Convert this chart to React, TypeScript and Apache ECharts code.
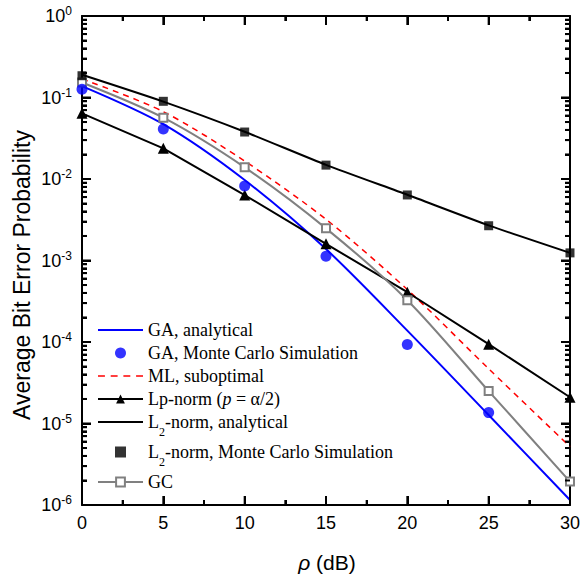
import React, { useEffect, useRef } from 'react';
import * as echarts from 'echarts';

const snr = [0, 5, 10, 15, 20, 25, 30];
const gaAnalytical = [0.138, 0.047, 0.0097, 0.00138, 1.38e-4, 1.27e-5, 1.15e-6];
const gaMonteCarlo = [0.126, 0.041, 0.0082, 0.00113, 9.3e-5, 1.36e-5];
const mlSuboptimal = [0.169, 0.067, 0.0166, 0.0032, 4.4e-4, 4.7e-5, 5.2e-6];
const lpNorm = [0.064, 0.0238, 0.00636, 0.0016, 4.08e-4, 9.4e-5, 2.1e-5];
const l2Analytical = [0.19, 0.089, 0.038, 0.0149, 0.0064, 0.0027, 0.00124];
const l2MonteCarlo = [0.185, 0.0898, 0.0377, 0.0148, 0.00637, 0.00267, 0.00124];
const gcValues = [0.153, 0.0565, 0.0139, 0.00248, 3.26e-4, 2.5e-5, 1.94e-6];

const seriesNames = [
  'GA, analytical',
  'GA, Monte Carlo Simulation',
  'ML, suboptimal',
  'Lp-norm (p = α/2)',
  'L2-norm, analytical',
  'L2-norm, Monte Carlo Simulation',
  'GC',
];
const legendRich: Record<string, string> = {
  'GA, analytical': '{n|GA, analytical}',
  'GA, Monte Carlo Simulation': '{n|GA, Monte Carlo Simulation}',
  'ML, suboptimal': '{n|ML, suboptimal}',
  'Lp-norm (p = α/2)': '{n|Lp-norm (}{i|p}{n| = α/2)}',
  'L2-norm, analytical': '{n|L}{sub|2}{n|-norm, analytical}',
  'L2-norm, Monte Carlo Simulation': '{n|L}{sub|2}{n|-norm, Monte Carlo Simulation}',
  GC: '{n|GC}',
};

// axis ticks
const xMajorTicks = [0, 5, 10, 15, 20, 25, 30];
const xMinorTicks = [2.5, 7.5, 12.5, 17.5, 22.5, 27.5];
const yMajorTicks = [1e-6, 1e-5, 1e-4, 1e-3, 1e-2, 1e-1, 1];
const decadeExponents = [-6, -5, -4, -3, -2, -1];
const minorMultipliers = [2, 3, 4, 5, 6, 7, 8, 9];

const X_MIN = 0;
const X_MAX = 30;
const Y_MIN = 1e-6;
const Y_MAX = 1;

const SANS = 'Arial, "Liberation Sans", sans-serif';
const SERIF = '"Times New Roman", "Liberation Serif", serif';

const ICON_SOLID = 'path://M0,0H45V2H0Z';
const ICON_DASH = 'path://M0,0H6V1.5H0Z M11,0H17V1.5H11Z M22,0H28V1.5H22Z M33,0H39V1.5H33Z';
const ICON_SQUARE = 'path://M0,0H10V10H0Z';

const pair = (xs: number[], ys: number[]) => ys.map((v, i) => [xs[i], v]);

export default function App() {
  const ref = useRef<HTMLDivElement>(null);
  useEffect(() => {
    if (!ref.current) return;
    const chart = echarts.init(ref.current, null, { renderer: 'svg' });
    const yMinorTicks: number[] = [];
    decadeExponents.forEach((e) => minorMultipliers.forEach((m) => yMinorTicks.push(m * Math.pow(10, e))));

    const MAJOR = 9;
    const MINOR = 5;
    const axisLine = (show: boolean) => ({ show, onZero: false, lineStyle: { color: '#000', width: 2 } });
    const tickLS = () => ({ color: '#000', width: 2 });
    const noSplit = () => ({ splitLine: { show: false }, minorSplitLine: { show: false } });
    const xAx = (pos: string, labels: boolean): any => ({
      type: 'value', min: X_MIN, max: X_MAX, interval: 5, position: pos, ...noSplit(),
      axisLine: axisLine(true),
      axisTick: { show: true, inside: true, length: MAJOR, lineStyle: tickLS() },
      minorTick: { show: true, splitNumber: 2, length: MINOR, lineStyle: tickLS() },
      axisLabel: labels ? { fontSize: 18, color: '#000', fontFamily: SANS, margin: 9 } : { show: false },
    });
    const yAx = (pos: string): any => ({
      type: 'log', logBase: 10, min: Y_MIN, max: Y_MAX, splitNumber: 6, position: pos, ...noSplit(),
      axisLine: axisLine(true),
      axisTick: { show: true, inside: true, length: MAJOR, lineStyle: tickLS() },
      axisLabel: { show: false },
    });
    const yMinorAx = (pos: string): any => ({
      type: 'log', logBase: 10, min: Y_MIN, max: Y_MAX, splitNumber: 6, position: pos, ...noSplit(),
      axisLine: axisLine(false),
      axisTick: { show: true, inside: true, length: MINOR, customValues: yMinorTicks, lineStyle: tickLS() },
      axisLabel: { show: false },
    });

    const option: any = {
      animation: false,
      grid: { left: 82, right: 12, top: 16, bottom: 72 },
      xAxis: [xAx('bottom', true), xAx('top', false)],
      yAxis: [
        {
          ...yAx('left'),
          axisLabel: {
            show: true, margin: 10, color: '#000',
            formatter: (v: number) => `{b|10}{s|${Math.round(Math.log10(v))}}`,
            rich: {
              b: { fontSize: 18, fontFamily: SANS, color: '#000', lineHeight: 22 },
              s: { fontSize: 12, fontFamily: SANS, color: '#000', lineHeight: 12, verticalAlign: 'top' },
            },
          },
        },
        yAx('right'),
        yMinorAx('left'),
        yMinorAx('right'),
      ],
      legend: {
        orient: 'vertical', left: 97, top: 321, padding: 0,
        itemWidth: 45, itemHeight: 11, itemGap: 5, symbolKeepAspect: true,
        formatter: (name: string) => legendRich[name] || name,
        textStyle: {
          color: '#000', fontFamily: SERIF, fontSize: 18,
          rich: {
            n: { fontFamily: SERIF, fontSize: 18, lineHeight: 18, color: '#000', verticalAlign: 'top' },
            i: { fontFamily: SERIF, fontSize: 18, lineHeight: 18, fontStyle: 'italic', color: '#000', verticalAlign: 'top' },
            sub: { fontFamily: SERIF, fontSize: 12, lineHeight: 12, padding: [13, 0, 0, 0], color: '#000', verticalAlign: 'top' },
          },
        },
        data: [
          { name: seriesNames[0], icon: ICON_SOLID },
          { name: seriesNames[1], icon: 'circle' },
          { name: seriesNames[2], icon: ICON_DASH },
          { name: seriesNames[3] },
          { name: seriesNames[4], icon: ICON_SOLID },
          { name: seriesNames[5], icon: ICON_SQUARE },
          { name: seriesNames[6] },
        ],
      },
      series: [
        {
          name: seriesNames[0], type: 'line', data: pair(snr, gaAnalytical), symbol: 'none', smooth: 0.3,
          lineStyle: { color: '#0000ff', width: 2 }, itemStyle: { color: '#0000ff' }, z: 3,
        },
        {
          name: seriesNames[1], type: 'scatter', data: pair(snr, gaMonteCarlo), symbol: 'circle', symbolSize: 11,
          itemStyle: { color: '#0000ff' }, z: 4,
        },
        {
          name: seriesNames[2], type: 'line', data: pair(snr, mlSuboptimal), symbol: 'none', smooth: 0.3,
          lineStyle: { color: '#ff0000', width: 1.5, type: [6, 5] }, itemStyle: { color: '#ff0000' }, z: 2,
        },
        {
          name: seriesNames[3], type: 'line', data: pair(snr, lpNorm), symbol: 'triangle', symbolSize: 11,
          lineStyle: { color: '#000', width: 2 }, itemStyle: { color: '#000' }, z: 3,
        },
        {
          name: seriesNames[4], type: 'line', data: pair(snr, l2Analytical), symbol: 'none', smooth: 0.2,
          lineStyle: { color: '#000', width: 2 }, itemStyle: { color: '#000' }, z: 3,
        },
        {
          name: seriesNames[5], type: 'scatter', data: pair(snr, l2MonteCarlo), symbol: 'rect', symbolSize: 9,
          itemStyle: { color: '#000' }, z: 4,
        },
        {
          name: seriesNames[6], type: 'line', data: pair(snr, gcValues), symbol: 'emptyRect', symbolSize: 8, smooth: 0.3,
          lineStyle: { color: '#808080', width: 2 }, itemStyle: { color: '#808080', borderWidth: 1.2 }, z: 3,
        },
      ],
    };
    chart.setOption(option);

    // Extra tick marks placed through the axes' own scales
    const px = (v: number) => Number(chart.convertToPixel({ xAxisIndex: 0 }, v));
    const py = (v: number) => Number(chart.convertToPixel({ yAxisIndex: 0 }, v));
    const left = px(X_MIN);
    const right = px(X_MAX);
    const bottom = py(Y_MIN);
    const top = py(Y_MAX);
    const ticks: any[] = [];
    const tickLine = (x1: number, y1: number, x2: number, y2: number) => {
      if ([x1, y1, x2, y2].some((n) => !isFinite(n))) return;
      ticks.push({ type: 'line', z: 50, shape: { x1, y1, x2, y2 }, style: { stroke: '#000', lineWidth: 2 } });
    };
    xMajorTicks.forEach((v) => { const x = px(v); tickLine(x, bottom, x, bottom - MAJOR); tickLine(x, top, x, top + MAJOR); });
    xMinorTicks.forEach((v) => { const x = px(v); tickLine(x, bottom, x, bottom - MINOR); tickLine(x, top, x, top + MINOR); });
    yMajorTicks.forEach((v) => { const y = py(v); tickLine(left, y, left + MAJOR, y); tickLine(right, y, right - MAJOR, y); });
    yMinorTicks.forEach((v) => { const y = py(v); tickLine(left, y, left + MINOR, y); tickLine(right, y, right - MINOR, y); });

    chart.setOption({
      graphic: {
        elements: [
          {
            type: 'text', x: 22, y: 275, rotation: Math.PI / 2,
            style: { text: 'Average Bit Error Probability', fontSize: 23, fontFamily: SANS, fill: '#000', align: 'center', verticalAlign: 'middle' },
          },
          {
            type: 'text', x: 327, y: 562,
            style: {
              text: '{i|ρ}{n| (dB)}', align: 'center', verticalAlign: 'middle', fill: '#000',
              rich: {
                i: { fontSize: 21, fontFamily: SANS, fontStyle: 'italic', fill: '#000' },
                n: { fontSize: 21, fontFamily: SANS, fill: '#000' },
              },
            },
          },
          ...ticks,
        ],
      },
    });
    return () => chart.dispose();
  }, []);
  return <div ref={ref} style={{ position: 'fixed', left: 0, top: 0, width: 583, height: 577, background: '#fff' }} />;
}
